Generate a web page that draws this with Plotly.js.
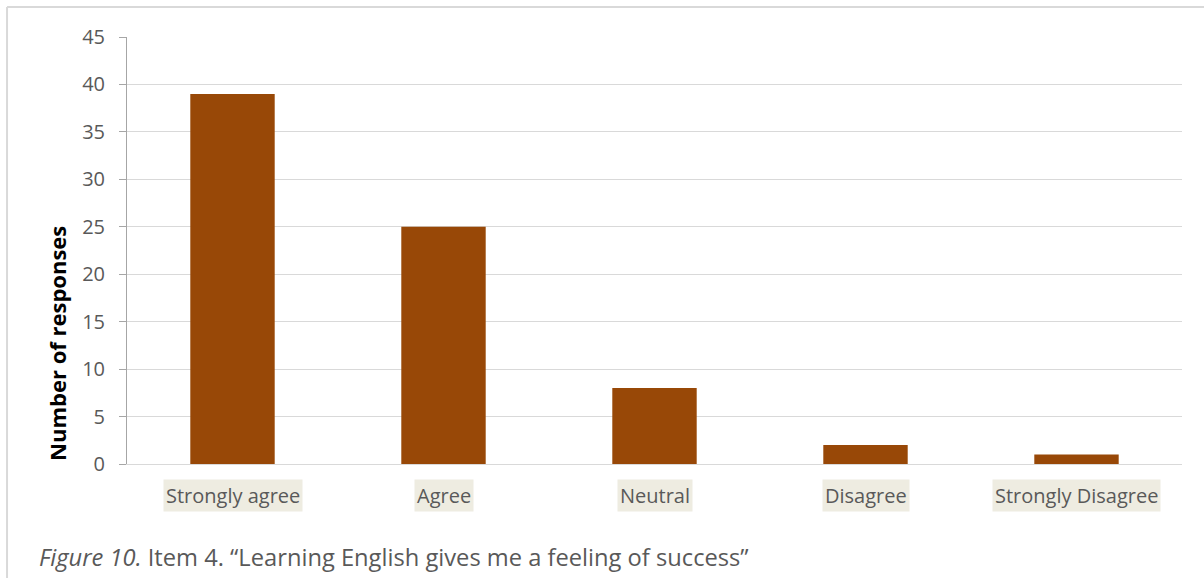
<!DOCTYPE html>
<html>
<head>
<meta charset="utf-8">
<script src="https://cdn.plot.ly/plotly-3.0.1.min.js"></script>
<style>html,body{margin:0;padding:0;background:#fff;}#chart{width:1204px;height:578px;}</style>
</head>
<body>
<div id="chart"></div>
<script>
const categories = ["Strongly agree", "Agree", "Neutral", "Disagree", "Strongly Disagree"];
const responses = [39, 25, 8, 2, 1];
const yTicks = [0, 5, 10, 15, 20, 25, 30, 35, 40, 45];
const yTitle = "Number of responses";
const caption = "<i>Figure 10.</i> Item 4. \u201CLearning English gives me a feeling of success\u201D";

const FONT = "Open Sans, sans-serif";
const GREY = "#595959";

const labelAnnotations = categories.map(c => ({
  x: c, xref: "x", y: -0.073, yref: "paper",
  text: c, showarrow: false, xanchor: "center", yanchor: "middle",
  bgcolor: "#eeece1", borderpad: 2,
  font: {family: FONT, size: 20, color: GREY}
}));

const data = [{
  type: "bar",
  x: categories,
  y: responses,
  marker: {color: "#984807"},
  hoverinfo: "skip"
}];

const layout = {
  width: 1204, height: 578,
  margin: {l: 127, r: 22, t: 37, b: 114},
  paper_bgcolor: "#fff", plot_bgcolor: "#fff",
  bargap: 0.6,
  showlegend: false,
  xaxis: {
    type: "category",
    showticklabels: false,
    showline: true, linecolor: "#d9d9d9", linewidth: 1,
    showgrid: false, ticks: "", zeroline: false
  },
  yaxis: {
    range: [0, 45],
    tickvals: yTicks,
    ticktext: yTicks.map(String),
    showgrid: true, gridcolor: "#d9d9d9", gridwidth: 1,
    showline: true, linecolor: "#a6a6a6", linewidth: 1,
    ticks: "outside", ticklen: 7, tickcolor: "#a6a6a6",
    ticklabelstandoff: 10,
    zeroline: false,
    tickfont: {family: FONT, size: 20, color: GREY}
  },
  shapes: [
    {type: "line", xref: "paper", yref: "paper", x0: -0.1137, x1: 1.05, y0: 1.0703, y1: 1.0703, line: {color: "#d9d9d9", width: 2}},
    {type: "line", xref: "paper", yref: "paper", x0: -0.1137, x1: -0.1137, y0: 1.0703, y1: -0.3, line: {color: "#d9d9d9", width: 2}}
  ],
  annotations: labelAnnotations.concat([
    {
      xref: "paper", yref: "paper", x: -0.0664, y: 0.2834,
      xanchor: "center", yanchor: "middle", showarrow: false, textangle: -90,
      text: "<b>" + yTitle + "</b>", font: {family: FONT, size: 22, color: "#000"}
    },
    {
      xref: "paper", yref: "paper", x: -0.0853, y: -0.2178,
      xanchor: "left", yanchor: "middle", showarrow: false,
      text: caption, font: {family: FONT, size: 23.7, color: GREY}
    }
  ])
};

Plotly.newPlot("chart", data, layout, {displayModeBar: false, staticPlot: true});
</script>
</body>
</html>
